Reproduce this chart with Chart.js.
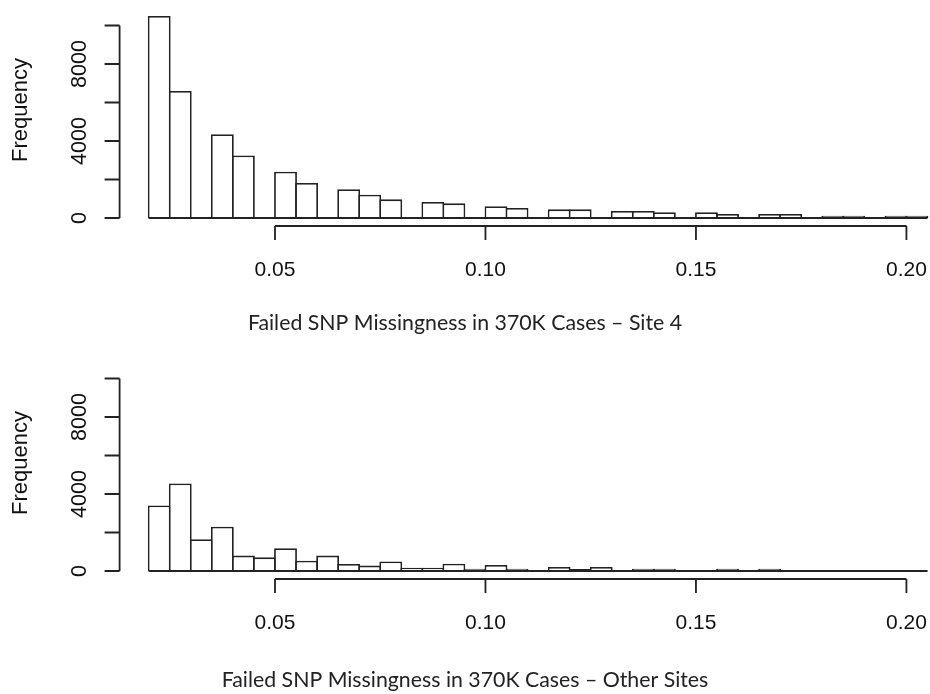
<!DOCTYPE html>
<html>
<head>
<meta charset="utf-8">
<title>Failed SNP Missingness</title>
<script src="https://cdn.jsdelivr.net/npm/chart.js@4.4.1/dist/chart.umd.min.js"></script>
<style>
  html, body { margin: 0; padding: 0; background: #fff; }
  body { width: 930px; height: 694px; overflow: hidden; }
  canvas { display: block; }
</style>
</head>
<body>
<canvas id="site4" width="930" height="347"></canvas>
<canvas id="otherSites" width="930" height="347"></canvas>
<script>
// lower edge of each missingness bin (width 0.005)
const binStart = [
  0.020, 0.025, 0.030, 0.035, 0.040, 0.045, 0.050, 0.055, 0.060, 0.065,
  0.070, 0.075, 0.080, 0.085, 0.090, 0.095, 0.100, 0.105, 0.110, 0.115,
  0.120, 0.125, 0.130, 0.135, 0.140, 0.145, 0.150, 0.155, 0.160, 0.165,
  0.170, 0.175, 0.180, 0.185, 0.190, 0.195, 0.200
]
const binWidth = 0.005

const site4Counts = [
  10500, 6600, 0, 4350, 3250, 0, 2400, 1820, 0, 1500,
  1210, 970, 0, 830, 760, 0, 610, 520, 0, 450,
  450, 0, 360, 360, 300, 0, 300, 210, 0, 210,
  210, 0, 120, 120, 0, 120, 120
]

const otherSitesCounts = [
  3400, 4550, 1650, 2300, 800, 710, 1180, 530, 800, 365,
  280, 500, 175, 175, 380, 120, 310, 120, 50, 210,
  105, 210, 40, 120, 120, 30, 30, 120, 30, 120,
  25, 25, 25, 25, 25, 25, 25
]

const freqTicks = [0, 2000, 4000, 6000, 8000, 10000]
const freqLabeled = [0, 4000, 8000]
const missTicks = [0.05, 0.10, 0.15, 0.20]
const missLabels = ['0.05', '0.10', '0.15', '0.20']

const titleSite4 = 'Failed SNP Missingness in 370K Cases \u2013 Site 4'
const titleOther = 'Failed SNP Missingness in 370K Cases \u2013 Other Sites'

const INK = '#222'
const LINE_W = 1.8

// base-graphics style axes: detached from the bars, ticks outward
const rAxes = {
  id: 'rAxes',
  afterDraw(chart, args, opts) {
    const { ctx, scales: { x, y } } = chart
    const zeroY = y.getPixelForValue(0)
    const axisX = x.left - 27
    const axisY = zeroY + 8

    ctx.save()
    ctx.strokeStyle = INK
    ctx.fillStyle = '#111'
    ctx.lineWidth = LINE_W

    // flat outline of the empty bins along the base
    ctx.beginPath()
    ctx.moveTo(x.getPixelForValue(binStart[0]), zeroY)
    ctx.lineTo(x.getPixelForValue(binStart[binStart.length - 1] + binWidth), zeroY)
    ctx.stroke()

    // y axis
    ctx.beginPath()
    ctx.moveTo(axisX, y.getPixelForValue(freqTicks[0]))
    ctx.lineTo(axisX, y.getPixelForValue(freqTicks[freqTicks.length - 1]))
    freqTicks.forEach(v => {
      const py = y.getPixelForValue(v)
      ctx.moveTo(axisX - 15, py)
      ctx.lineTo(axisX, py)
    })
    ctx.stroke()

    ctx.font = '21.5px "Liberation Sans", Arial, sans-serif'
    ctx.textAlign = 'center'
    ctx.textBaseline = 'alphabetic'
    freqLabeled.forEach(v => {
      ctx.save()
      ctx.translate(86, y.getPixelForValue(v))
      ctx.rotate(-Math.PI / 2)
      ctx.fillText(String(v), 0, 0)
      ctx.restore()
    })

    ctx.save()
    ctx.font = '22px "Liberation Sans", Arial, sans-serif'
    ctx.translate(27, zeroY - 108)
    ctx.rotate(-Math.PI / 2)
    ctx.fillText('Frequency', 0, 0)
    ctx.restore()

    // x axis
    ctx.beginPath()
    ctx.moveTo(x.getPixelForValue(missTicks[0]), axisY)
    ctx.lineTo(x.getPixelForValue(missTicks[missTicks.length - 1]), axisY)
    missTicks.forEach(v => {
      const px = x.getPixelForValue(v)
      ctx.moveTo(px, axisY)
      ctx.lineTo(px, axisY + 14)
    })
    ctx.stroke()

    ctx.font = '21px "Liberation Sans", Arial, sans-serif'
    missTicks.forEach((v, i) => {
      ctx.fillText(missLabels[i], x.getPixelForValue(v), zeroY + 58)
    })

    // caption under the panel
    ctx.fillStyle = '#222'
    ctx.font = '21.3px Lato, "Open Sans", sans-serif'
    ctx.fillText(opts.caption, 465, zeroY + opts.captionOffset)

    ctx.restore()
  }
}

function drawHistogram(canvasId, counts, caption, padTop, padBottom, captionOffset) {
  const data = {
    datasets: [
      {
        data: binStart.map((b, i) => ({ x: b + binWidth / 2, y: counts[i] })),
        backgroundColor: '#fff',
        borderColor: INK,
        borderWidth: LINE_W,
        borderSkipped: 'start',
        // bars overlap by one border width so shared edges stay single lines
        barPercentage: 1.085,
        categoryPercentage: 1,
        inflateAmount: 0,
        clip: false,
      },
    ],
  }

  const options = {
    responsive: false,
    animation: false,
    events: [],
    layout: {
      padding: { left: 146.6, right: 0, top: padTop, bottom: padBottom },
    },
    scales: {
      x: { type: 'linear', display: false, offset: false, min: 0.0195, max: 0.2056 },
      y: { display: false, min: 0, max: 11000 },
    },
    plugins: {
      legend: { display: false },
      tooltip: { enabled: false },
      rAxes: { caption, captionOffset },
    },
  }

  return new Chart(document.getElementById(canvasId), {
    type: 'bar',
    data,
    options,
    plugins: [rAxes],
  })
}

drawHistogram('site4', site4Counts, titleSite4, 6.25, 129, 112)
drawHistogram('otherSites', otherSitesCounts, titleOther, 12.25, 123, 116)
</script>
</body>
</html>
